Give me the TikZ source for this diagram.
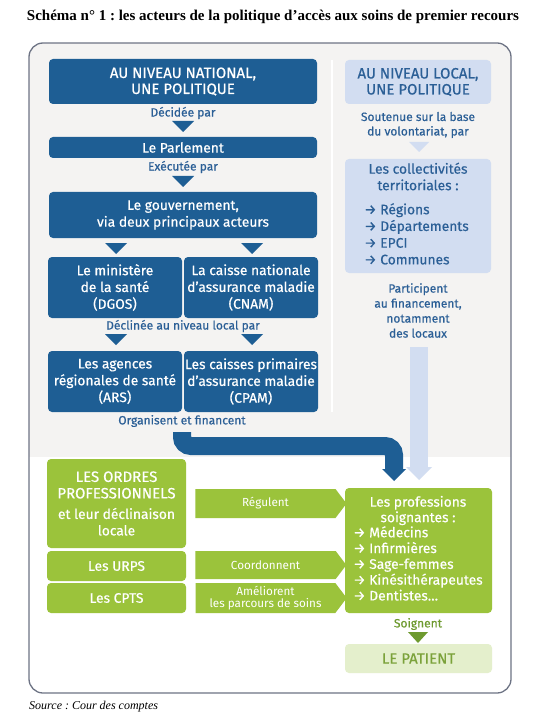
\documentclass[tikz,border=0pt]{standalone}
\usepackage{fontspec}
\setmainfont{Liberation Serif}
\newfontfamily\ff[FakeBold=0.5]{Fira Sans}
\newfontfamily\fl{Fira Sans}
\usetikzlibrary{calc,shapes.symbols}
\frenchspacing
\definecolor{dblue}{RGB}{30,94,148}
\definecolor{lblue}{RGB}{210,221,241}
\definecolor{tblue}{RGB}{43,95,150}
\definecolor{gr}{RGB}{155,195,59}
\definecolor{dgr}{RGB}{110,154,47}
\definecolor{lgr}{RGB}{228,239,204}
\definecolor{pgr}{RGB}{123,162,58}
\definecolor{bggrey}{RGB}{244,243,242}
\definecolor{framec}{RGB}{109,115,132}
\newcommand{\capsz}{\fontsize{15}{16}\selectfont}
\tikzset{
  bbox/.style={fill=dblue, rounded corners=4pt, text=white, align=center, inner sep=0pt,
    font=\ff\fontsize{13.8}{16.8}\selectfont},
  lbbox/.style={fill=lblue, rounded corners=4pt, text=tblue, align=center, inner sep=0pt,
    font=\ff\fontsize{13.8}{16.8}\selectfont},
  gbox/.style={fill=gr, rounded corners=4pt, text=white, align=center, inner sep=0pt,
    font=\ff\fontsize{13.8}{16.5}\selectfont},
  garrow/.style={fill=gr, shape=signal, signal to=east, signal pointer angle=106, text=white,
    align=center, inner sep=0pt, minimum width=151pt, font=\fl\fontsize{11.7}{11.5}\selectfont},
  lbl/.style={text=tblue, align=center, inner sep=0pt, font=\ff\fontsize{12}{15}\selectfont},
  tri/.style={fill=dblue},
  ltri/.style={fill=lblue},
}
\newcommand{\downtri}[3]{\fill[#1] ($(#2)+(-#3,0)$) -- ($(#2)+(#3,0)$) -- ($(#2)+(0,#3)$) -- cycle;}
\begin{document}
\begin{tikzpicture}[x=1pt,y=-1pt]
\useasboundingbox (0,0) rectangle (546,719);
% title
\node (title) at (273,17) {\fontsize{15}{17}\selectfont\bfseries Schéma n° 1 : les acteurs de la politique d’accès aux soins de premier recours};
\node[anchor=west, inner sep=0] (src) at (29,707) {\fontsize{12}{14}\selectfont\itshape Source : Cour des comptes};
% frame
\begin{scope}
\clip[rounded corners=14pt] (29,43) rectangle (511,693);
\fill[white] (29,43) rectangle (511,693);
\fill[bggrey] (29,43) rectangle (511,457);
\end{scope}
\draw[framec, line width=1.3pt, rounded corners=14pt] (29,43) rectangle (511,693);
\draw[white, line width=1.2pt] (332,60) -- (332,412);

% national column
\node[bbox, minimum width=268pt, minimum height=45pt, font=\ff\capsz] (nat) at (183,81.5) {AU NIVEAU NATIONAL,\\UNE POLITIQUE};
\node[lbl] (decid) at (183,113) {Décidée par};
\coordinate (t1) at (183,121);
\downtri{tri}{t1}{11}
\node[bbox, minimum width=268pt, minimum height=21pt] (parl) at (183,147.5) {Le Parlement};
\node[lbl] (exec) at (183,167) {Exécutée par};
\coordinate (t2) at (183,176);
\downtri{tri}{t2}{11}
\node[bbox, minimum width=268pt, minimum height=46pt] (gouv) at (183,215) {Le gouvernement,\\via deux principaux acteurs};
\coordinate (t3) at (116,243);
\coordinate (t4) at (252,243);
\downtri{tri}{t3}{11}
\downtri{tri}{t4}{11}
\node[bbox, minimum width=134pt, minimum height=61pt] (min) at (115,287.5) {Le ministère\\de la santé\\(DGOS)};
\node[bbox, minimum width=134pt, minimum height=61pt] (cnam) at (251,287.5) {La caisse nationale\\d’assurance maladie\\(CNAM)};
\node[lbl] (decl) at (183,326) {Déclinée au niveau local par};
\coordinate (t5) at (116,334);
\coordinate (t6) at (252,334);
\downtri{tri}{t5}{11}
\downtri{tri}{t6}{11}
\node[bbox, minimum width=134pt, minimum height=61pt] (ars) at (115,381.5) {Les agences\\régionales de santé\\(ARS)};
\node[bbox, minimum width=134pt, minimum height=61pt] (cpam) at (251,381.5) {Les caisses primaires\\d’assurance maladie\\(CPAM)};
\node[lbl] (org) at (182,421) {Organisent et financent};

% local column
\node[lbbox, minimum width=146pt, minimum height=44pt, font=\ff\capsz] (loc) at (418,82) {AU NIVEAU LOCAL,\\UNE POLITIQUE};
\node[lbl, font=\ff\fontsize{12}{14.5}\selectfont] (sout) at (418,125) {Soutenue sur la base\\du volontariat, par};
\coordinate (t7) at (419,142);
\downtri{ltri}{t7}{10}
\node[lbbox, minimum width=146pt, minimum height=114pt] (coll) at (418,216) {};
\node[lbl, font=\ff\fontsize{13.8}{16.5}\selectfont] (collh) at (418,176.5) {Les collectivités\\territoriales :};
\node[lbl, anchor=north west, align=left, font=\ff\fontsize{13.8}{16.7}\selectfont] (colll) at (364,203) {→ Régions\\→ Départements\\→ EPCI\\→ Communes};
\node[lbl, font=\ff\fontsize{12}{15}\selectfont] (part) at (418,310.5) {Participent\\au financement,\\notamment\\des locaux};

% green section
\node[gbox, minimum width=139pt, minimum height=89pt] (ordres) at (116.5,503.5) {{\capsz LES ORDRES}\\{\capsz PROFESSIONNELS}\\[4pt]et leur déclinaison\\locale};
\node[gbox, minimum width=139pt, minimum height=30pt] (urps) at (116.5,566) {Les URPS};
\node[gbox, minimum width=139pt, minimum height=30pt] (cpts) at (116.5,598) {Les CPTS};
\node[garrow, minimum height=29pt] (reg) at (265.5,503.5) {Régulent};
\node[garrow, minimum height=28pt] (coord) at (265.5,565) {Coordonnent};
\node[garrow, minimum height=30pt] (amel) at (265.5,598) {Améliorent\\les parcours de soins};
\node[gbox, minimum width=147pt, minimum height=125pt] (prof) at (418.5,550.5) {};
\node[gbox, fill=none, font=\ff\fontsize{13.8}{15.5}\selectfont] (profh) at (418,510.5) {Les professions\\soignantes :};
\node[gbox, fill=none, anchor=north west, align=left, font=\ff\fontsize{13.8}{15.8}\selectfont] (profl) at (353,526) {→ Médecins\\→ Infirmières\\→ Sage-femmes\\→ Kinésithérapeutes\\→ Dentistes…};
\node[lbl, text=dgr] (soig) at (418,624) {Soignent};
\coordinate (t8) at (418,632);
\fill[dgr] ($(t8)+(-10,0)$) -- ($(t8)+(10,0)$) -- ($(t8)+(0,11)$) -- cycle;
\node[fill=lgr, rounded corners=4pt, text=pgr, inner sep=0pt, minimum width=147pt, minimum height=29pt,
  font=\ff\capsz] (pat) at (418.5,658.5) {LE PATIENT};

% big arrows
\coordinate (ba1) at (182,432);
\coordinate (ba2) at (182,446);
\coordinate (ba3) at (394,446);
\coordinate (ba4) at (394,470);
\coordinate (bh) at (394,469);
\draw[dblue, line width=18pt, rounded corners=9pt] (ba1) -- (ba2) -- (ba3) -- (ba4);
\fill[dblue] ($(bh)+(-12,0)$) -- ($(bh)+(12,0)$) -- ($(bh)+(0,12)$) -- cycle;
\coordinate (lb1) at (419,347);
\coordinate (lbh) at (419,467);
\fill[lblue] ($(lb1)+(-9,0)$) rectangle ($(lbh)+(9,1)$);
\fill[lblue] ($(lbh)+(-13,0)$) -- ($(lbh)+(13,0)$) -- ($(lbh)+(0,13)$) -- cycle;
\end{tikzpicture}
\end{document}
